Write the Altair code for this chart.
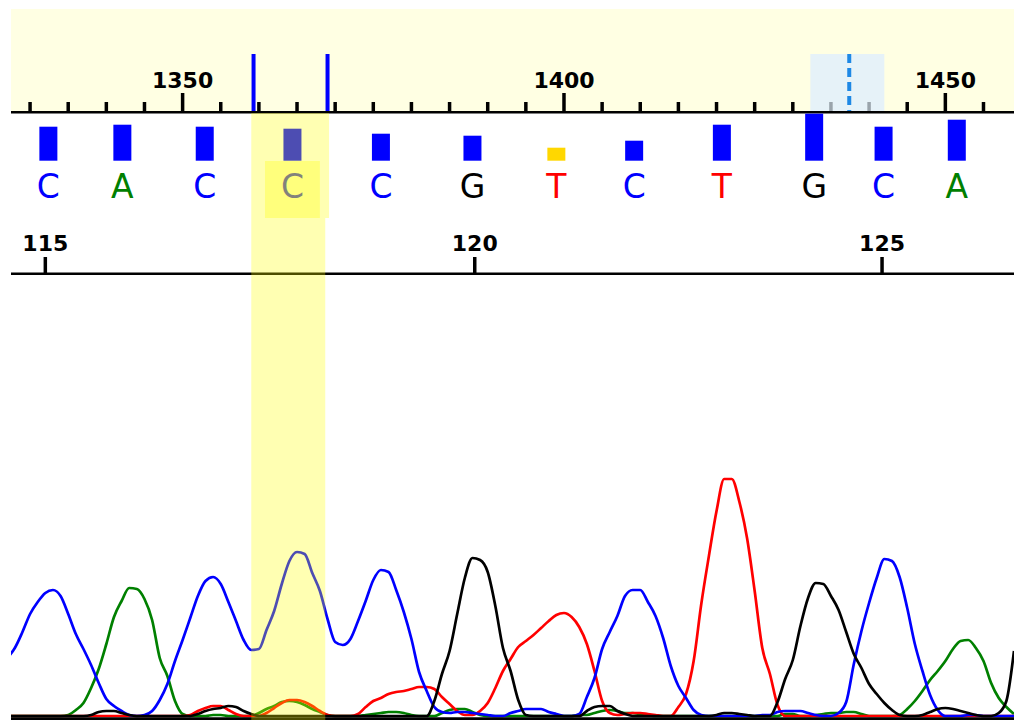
import altair as alt
import pandas as pd

# ---------------- data ----------------
scans = list(range(1327, 1460))  # scan index of each trace sample

signal_C = [58, 68, 84, 102, 114, 123, 126, 120, 102, 82,
            67, 51, 33, 17, 10, 5, 1, 0, 1, 5,
            16, 32, 55, 76, 98, 120, 135, 139, 132, 114,
            95, 76, 66, 67, 86, 105, 132, 155, 164, 162,
            143, 125, 97, 74, 71, 77, 95, 115, 136, 146,
            144, 126, 104, 77, 44, 25, 9, 4, 3, 4,
            4, 3, 2, 1, 0, 0, 3, 5, 7, 7,
            7, 4, 2, 0, 0, 2, 19, 38, 67, 84,
            100, 120, 126, 126, 114, 100, 78, 50, 30, 18,
            6, 1, 0, 0, 0, 0, 0, 0, 0, 1,
            1, 4, 5, 5, 5, 3, 1, 0, 0, 3,
            14, 52, 85, 113, 138, 157, 155, 139, 108, 72,
            45, 21, 6, 0, 0, 0, 1, 1, 0, 0,
            0, 0, 0]
signal_A = [0, 0, 0, 0, 0, 0, 0, 0, 1, 6,
            13, 28, 47, 72, 99, 115, 128, 127, 117, 96,
            58, 40, 15, 2, 0, 0, 0, 1, 1, 0,
            0, 0, 0, 3, 7, 10, 14, 15, 14, 11,
            7, 4, 1, 0, 0, 0, 0, 1, 2, 3,
            4, 4, 3, 1, 0, 0, 0, 3, 6, 7,
            7, 4, 1, 0, 0, 0, 0, 0, 0, 0,
            0, 0, 0, 0, 0, 1, 1, 3, 5, 6,
            5, 3, 3, 2, 1, 0, 0, 0, 0, 0,
            0, 0, 0, 0, 0, 0, 0, 0, 0, 0,
            0, 0, 2, 2, 0, 0, 1, 2, 3, 3,
            4, 4, 2, 0, 0, 0, 0, 1, 7, 15,
            25, 36, 45, 55, 67, 75, 76, 68, 55, 33,
            18, 9, 2]
signal_T = [0, 0, 0, 0, 0, 0, 0, 0, 0, 0,
            0, 0, 0, 0, 0, 0, 0, 0, 0, 0,
            0, 0, 0, 0, 1, 5, 8, 10, 10, 6,
            2, 0, 0, 0, 3, 8, 13, 16, 16, 14,
            10, 5, 1, 0, 0, 0, 2, 9, 15, 18,
            22, 24, 25, 27, 29, 29, 27, 19, 12, 5,
            1, 1, 5, 13, 28, 45, 57, 69, 75, 81,
            88, 95, 101, 103, 99, 89, 72, 45, 15, 3,
            1, 2, 3, 3, 2, 1, 0, 0, 9, 22,
            55, 112, 160, 205, 237, 237, 214, 178, 125, 68,
            42, 11, 0, 0, 0, 0, 0, 0, 0, 0,
            0, 0, 0, 0, 0, 0, 0, 0, 0, 0,
            0, 0, 0, 0, 0, 0, 0, 0, 0, 0,
            0, 0, 0]
signal_G = [0, 0, 0, 0, 0, 0, 0, 0, 0, 0,
            0, 1, 4, 5, 5, 3, 1, 0, 0, 0,
            0, 0, 0, 0, 0, 2, 5, 7, 8, 10,
            9, 5, 2, 0, 0, 0, 0, 0, 0, 0,
            0, 0, 0, 0, 0, 0, 0, 0, 0, 0,
            0, 0, 0, 0, 0, 0, 15, 42, 65, 102,
            138, 158, 156, 144, 110, 68, 45, 16, 1, 0,
            0, 0, 0, 0, 0, 0, 5, 9, 10, 10,
            5, 2, 0, 0, 0, 0, 0, 0, 0, 0,
            0, 0, 0, 1, 3, 3, 2, 1, 0, 0,
            0, 14, 37, 56, 90, 118, 133, 132, 120, 106,
            84, 62, 48, 32, 22, 13, 6, 1, 0, 0,
            1, 4, 7, 8, 7, 5, 3, 1, 0, 0,
            3, 15, 65]

base_calls = ["C", "A", "C", "C", "C", "G", "T", "C", "T", "G", "C", "A"]
base_scan = [1332.4, 1342.1, 1352.9, 1364.4, 1376.0, 1388.0,
             1399.0, 1409.2, 1420.7, 1432.8, 1441.9, 1451.5]
quality = [34, 36, 34, 32, 27, 25, 13, 20, 36, 47, 34, 41]

scan_ticks = list(range(1325, 1460, 5))
scan_labels = [1350, 1400, 1450]
base_numbers = ["115", "120", "125"]
base_number_scan = [1332.0, 1388.3, 1441.7]

selection_marks = [1359.3, 1369.0]      # blue marks on the scan ruler
cursor_range = [1432.3, 1442.0]         # light-blue cursor window
cursor_scan = [1437.4]                  # dashed cursor
highlight_top = [1359.0, 1369.2]
highlight_bottom = [1359.0, 1368.7]
highlight_letter = [1360.8, 1368.0]

for s in (signal_C, signal_A, signal_T, signal_G):
    assert len(s) == len(scans), len(s)

# ---------------- tables ----------------
traces = pd.DataFrame({
    "scan": scans * 4,
    "base": ["A"] * len(scans) + ["T"] * len(scans) + ["C"] * len(scans) + ["G"] * len(scans),
    "signal": signal_A + signal_T + signal_C + signal_G,
})
calls = pd.DataFrame({"scan": base_scan, "base": base_calls, "q": quality})
ticks = pd.DataFrame({"t": scan_ticks})
labels = pd.DataFrame({"t": scan_labels, "txt": [str(v) for v in scan_labels]})
bnum = pd.DataFrame({"scan": base_number_scan, "txt": base_numbers})
sel = pd.DataFrame({"scan": selection_marks})
cur_box = pd.DataFrame({"lo": [cursor_range[0]], "hi": [cursor_range[1]]})
cur_line = pd.DataFrame({"scan": cursor_scan})
hl = pd.DataFrame({"lo": [highlight_top[0], highlight_bottom[0], highlight_letter[0]],
                   "hi": [highlight_top[1], highlight_bottom[1], highlight_letter[1]],
                   "part": ["top", "bottom", "letter"]})

# ---------------- scales / styles ----------------
W, H = 1003, 711
XS = alt.Scale(domain=[1327.5, 1459.0], nice=False, zero=False, padding=0)
BASE_COLORS = alt.Scale(domain=["A", "C", "G", "T"],
                        range=["#008000", "#0000ff", "#000000", "#ff0000"])
FONT = "DejaVu Sans"


def X(field):
    return alt.X(field, type="quantitative", scale=XS, axis=None)


ruler_bg = alt.Chart().mark_rect(color="#ffffe3").encode(
    x=alt.value(0), x2=alt.value(W), y=alt.value(0), y2=alt.value(103))

cursor_rect = alt.Chart(cur_box).mark_rect(color="#e6f2f8").encode(
    x=X("lo"), x2="hi", y=alt.value(45), y2=alt.value(102))

inside = f"datum.t > {cursor_range[0]} && datum.t < {cursor_range[1]}"
minor_ticks = alt.Chart(ticks).transform_filter(
    f"datum.t % 50 != 0 && !({inside})").mark_rule(color="black", strokeWidth=3.5).encode(
    x=X("t"), y=alt.value(93), y2=alt.value(102))
minor_ticks_grey = alt.Chart(ticks).transform_filter(
    f"datum.t % 50 != 0 && ({inside})").mark_rule(color="#9aa4ab", strokeWidth=3.5).encode(
    x=X("t"), y=alt.value(93), y2=alt.value(102))
major_ticks = alt.Chart(ticks).transform_filter("datum.t % 50 == 0").mark_rule(
    color="black", strokeWidth=3.5).encode(x=X("t"), y=alt.value(84), y2=alt.value(102))
ruler_line = alt.Chart().mark_rule(color="black", strokeWidth=2.5).encode(
    x=alt.value(0), x2=alt.value(W), y=alt.value(103.2))
cursor_dash = alt.Chart(cur_line).mark_rule(
    color="#1e88e5", strokeWidth=4, strokeDash=[9, 5]).encode(
    x=X("scan"), y=alt.value(45), y2=alt.value(102))
sel_lines = alt.Chart(sel).mark_rule(color="#0000ff", strokeWidth=4).encode(
    x=X("scan"), y=alt.value(45), y2=alt.value(102))
ruler_text = alt.Chart(labels).mark_text(
    font=FONT, fontSize=22, fontWeight="bold", color="black",
    align="center", baseline="alphabetic").encode(
    x=X("t"), y=alt.value(79), text="txt:N")

QS = alt.Scale(domain=[0, 50], range=[151.7, 101.7])
bars_ok = alt.Chart(calls).transform_filter("datum.q >= 15").mark_bar(
    size=18, color="#0000ff", orient="vertical").encode(
    x=X("scan"), y=alt.Y("q:Q", scale=QS, axis=None), y2=alt.datum(0))
bars_low = alt.Chart(calls).transform_filter("datum.q < 15").mark_bar(
    size=18, color="#ffd700", orient="vertical").encode(
    x=X("scan"), y=alt.Y("q:Q", scale=QS, axis=None), y2=alt.datum(0))

letters = alt.Chart(calls).mark_text(
    font=FONT, fontSize=33, fontWeight="normal", align="center", baseline="alphabetic").encode(
    x=X("scan"), y=alt.value(188.7), text="base:N",
    color=alt.Color("base:N", scale=BASE_COLORS, legend=None))

bnum_text = alt.Chart(bnum).mark_text(
    font=FONT, fontSize=22, fontWeight="bold", color="black",
    align="center", baseline="alphabetic").encode(
    x=X("scan"), y=alt.value(242), text="txt:N")
bnum_ticks = alt.Chart(bnum).mark_rule(color="black", strokeWidth=3.5).encode(
    x=X("scan"), y=alt.value(248), y2=alt.value(264))
bnum_line = alt.Chart().mark_rule(color="black", strokeWidth=2.4).encode(
    x=alt.value(0), x2=alt.value(W), y=alt.value(264.8))

trace_lines = alt.Chart(traces).mark_line(
    strokeWidth=2.7, interpolate="monotone", clip=True).encode(
    x=X("scan"),
    y=alt.Y("signal:Q", scale=alt.Scale(domain=[0, 250], range=[707, 457]), axis=None),
    color=alt.Color("base:N", scale=BASE_COLORS, legend=None),
    detail="base:N")
baseline = alt.Chart().mark_rule(color="black", strokeWidth=2.8).encode(
    x=alt.value(0), x2=alt.value(W), y=alt.value(709.6))

hl_top = alt.Chart(hl).transform_filter("datum.part == 'top'").mark_rect(
    color="#ffff00", opacity=0.3).encode(x=X("lo"), x2="hi", y=alt.value(104), y2=alt.value(209))
hl_bottom = alt.Chart(hl).transform_filter("datum.part == 'bottom'").mark_rect(
    color="#ffff00", opacity=0.3).encode(x=X("lo"), x2="hi", y=alt.value(209), y2=alt.value(H))
hl_letter = alt.Chart(hl).transform_filter("datum.part == 'letter'").mark_rect(
    color="#ffff00", opacity=0.3).encode(x=X("lo"), x2="hi", y=alt.value(152), y2=alt.value(209))

chart = alt.layer(
    ruler_bg, cursor_rect, minor_ticks, minor_ticks_grey, major_ticks, ruler_line,
    cursor_dash, sel_lines, ruler_text,
    bars_ok, bars_low, letters,
    bnum_text, bnum_ticks, bnum_line,
    trace_lines, baseline,
    hl_top, hl_bottom, hl_letter,
).resolve_scale(y="independent").properties(
    width=W, height=H, autosize="none",
    padding={"left": 11, "top": 9, "right": 0, "bottom": 0},
    background="white",
).configure_view(stroke=None)

chart.save("out.html", embed_options={"renderer": "svg", "actions": False})
